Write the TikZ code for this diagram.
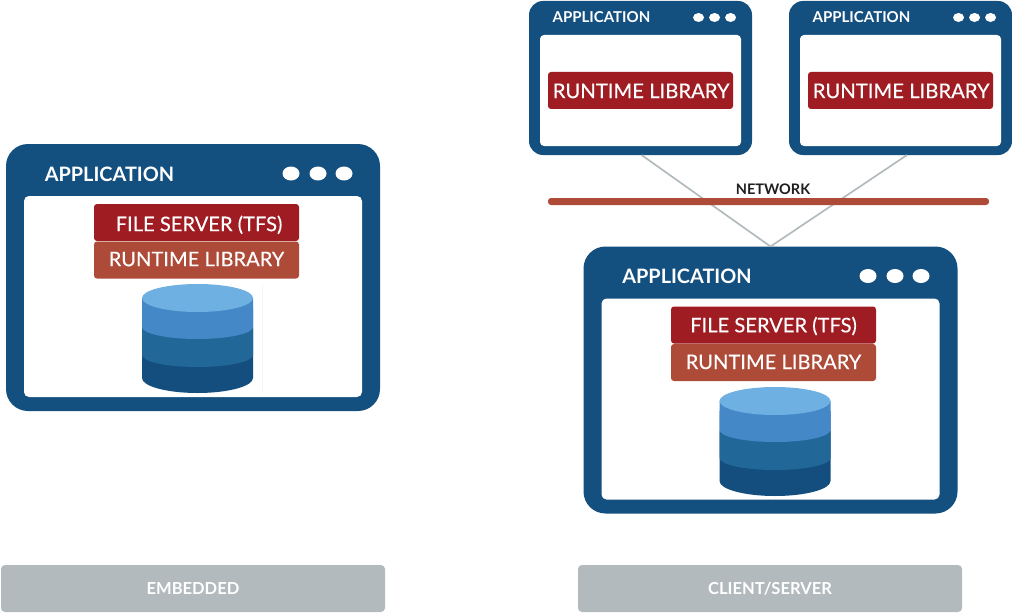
\documentclass[tikz,border=0pt]{standalone}
\usepackage{fontspec}
\setmainfont{Lato}
\newfontfamily\layerfont[FakeBold=0.25]{Lato}
\usetikzlibrary{shapes.geometric}
\definecolor{navy}{HTML}{134F7F}
\definecolor{redbox}{HTML}{9F1C22}
\definecolor{rustbox}{HTML}{AE4A38}
\definecolor{graybox}{HTML}{B2BABD}
\definecolor{cylA}{HTML}{6FB0E2}
\definecolor{cylB}{HTML}{4488C7}
\definecolor{cylC}{HTML}{216899}
\definecolor{cylD}{HTML}{134E7F}
\def\px{0.75pt}
\tikzset{
  boxbase/.style={rectangle,inner sep=0pt,outer sep=0pt,text=white,align=center},
  bigframe/.style={boxbase,fill=navy,minimum width=374*\px,minimum height=267*\px,rounded corners=22*\px},
  bigpane/.style={boxbase,fill=white,minimum width=338*\px,minimum height=201*\px,rounded corners=5*\px},
  smallframe/.style={boxbase,fill=navy,minimum width=223*\px,minimum height=154*\px,rounded corners=14*\px},
  smallpane/.style={boxbase,fill=white,minimum width=201*\px,minimum height=111*\px,rounded corners=4*\px},
  layerbox/.style={boxbase,minimum width=205*\px,minimum height=37*\px,rounded corners=3*\px,text height=10.8pt,text depth=0pt,font=\fontsize{15.1}{18}\selectfont\layerfont},
  tfsbox/.style={layerbox,fill=redbox},
  rtbox/.style={layerbox,fill=rustbox},
  smallrt/.style={boxbase,fill=redbox,minimum width=185*\px,minimum height=37*\px,rounded corners=3*\px,text height=11.4pt,text depth=0pt,font=\fontsize{15.2}{18}\selectfont\layerfont},
  bigtitle/.style={text=white,inner sep=0pt,font=\fontsize{14.9}{18}\selectfont\bfseries,anchor=center},
  smalltitle/.style={text=white,inner sep=0pt,font=\fontsize{11.25}{13}\selectfont\bfseries,anchor=center},
  bigdot/.style={ellipse,fill=white,inner sep=0pt,minimum width=17*\px,minimum height=14*\px},
  smalldot/.style={ellipse,fill=white,inner sep=0pt,minimum width=11*\px,minimum height=9*\px},
  footer/.style={boxbase,fill=graybox,minimum width=384*\px,minimum height=47*\px,rounded corners=4*\px,font=\fontsize{12.4}{14}\selectfont\bfseries},
  wire/.style={draw=graybox,line width=1.25pt},
  netbar/.style={boxbase,fill=rustbox,minimum width=441*\px,minimum height=7*\px,rounded corners=3*\px},
  netlabel/.style={text=black!88,inner sep=0pt,font=\fontsize{10.9}{12}\selectfont\bfseries},
}
\newcommand{\cylstack}[2]{%
  \begin{scope}[shift={(#1,#2)}]
    \fill[cylD] (-55.5,30) -- (-55.5,80) arc[start angle=180,end angle=0,x radius=55.5,y radius=15] -- (55.5,30) -- cycle;
    \fill[cylC] (-55.5,10) -- (-55.5,57) arc[start angle=180,end angle=0,x radius=55.5,y radius=12] -- (55.5,10) -- cycle;
    \fill[cylB] (-55.5,0) -- (-55.5,29) arc[start angle=180,end angle=0,x radius=55.5,y radius=12] -- (55.5,0) -- cycle;
    \fill[cylA] (0,0) ellipse[x radius=55.5,y radius=14];
  \end{scope}}
\begin{document}
\begin{tikzpicture}[x=0.75pt,y=-0.75pt]
\useasboundingbox (0,0) rectangle (1012,613);
\fill[white] (0,0) rectangle (1012,613);

% left window
\node[bigframe] (emb) at (193,277.5) {};
\node[bigpane] (embpane) at (193,296.5) {};
\node[bigtitle] (embtitle) at (109.5,174) {APPLICATION};
\node[bigdot] (embd1) at (291,173.5) {};
\node[bigdot] (embd2) at (318,173.5) {};
\node[bigdot] (embd3) at (344,173.5) {};
\node[tfsbox,text height=13pt] (embtfs) at (196.5,222.5) {\hspace*{3.75pt}FILE SERVER (TFS)};
\node[rtbox,text height=9.3pt] (embrt) at (196.5,260) {RUNTIME LIBRARY};
\draw[draw=black!4,line width=0.4pt] (262.5,285) -- (262.5,393);
\cylstack{197.5}{298}

% server window and connectors
\node[bigframe] (srv) at (770.5,380) {};
\node[smallframe] (cl1) at (640.5,78) {};
\node[smallframe] (cl2) at (900.5,78) {};
\draw[wire] ([xshift=0.75pt]cl1.south) -- (srv.north);
\draw[wire] ([xshift=4.9pt]cl2.south) -- (srv.north);
\node[netbar] (net) at (768.5,201.5) {};
\node[netlabel] (netl) at (773,189.5) {NETWORK};

\node[bigpane] (srvpane) at (770.5,399) {};
\node[bigtitle] (srvtitle) at (687,276.5) {APPLICATION};
\node[bigdot] (srvd1) at (868,276) {};
\node[bigdot] (srvd2) at (895,276) {};
\node[bigdot] (srvd3) at (921,276) {};
\node[tfsbox,text height=11pt] (srvtfs) at (773.5,325) {FILE SERVER (TFS)};
\node[rtbox,text height=9.8pt] (srvrt) at (773.5,362.5) {RUNTIME LIBRARY};
\cylstack{775}{401}

% client windows
\node[smallpane] (cl1pane) at (640.5,90.5) {};
\node[smalltitle] (cl1title) at (601.5,17.5) {APPLICATION};
\node[smalldot] (cl1d1) at (698.5,17.5) {};
\node[smalldot] (cl1d2) at (714.5,17.5) {};
\node[smalldot] (cl1d3) at (730.5,17.5) {};
\node[smallrt] (cl1rt) at (640.5,90.5) {\hspace*{1pt}RUNTIME LIBRARY};

\node[smallpane] (cl2pane) at (900.5,90.5) {};
\node[smalltitle] (cl2title) at (861.5,17.5) {APPLICATION};
\node[smalldot] (cl2d1) at (958.5,17.5) {};
\node[smalldot] (cl2d2) at (974.5,17.5) {};
\node[smalldot] (cl2d3) at (990.5,17.5) {};
\node[smallrt] (cl2rt) at (900.5,90.5) {\hspace*{1pt}RUNTIME LIBRARY};

% footers
\node[footer] (ftA) at (193,588.5) {EMBEDDED};
\node[footer] (ftB) at (770,588.5) {CLIENT/SERVER};
\end{tikzpicture}
\end{document}
